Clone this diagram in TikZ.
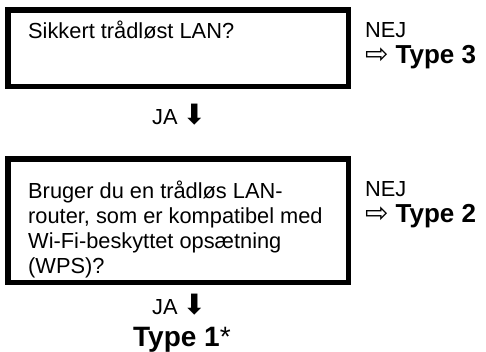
\documentclass[tikz,border=0pt]{standalone}
\usepackage{fontspec}
\setmainfont{Liberation Sans}
\newfontfamily\symfont{DejaVu Sans}
\newcommand\wra{{\symfont\mdseries\fontsize{28}{28}\selectfont ⇨}}
\newcommand\dna{{\symfont\fontsize{28}{28}\selectfont ⬇}}
\begin{document}
\begin{tikzpicture}[x=1pt,y=-1pt,
  qbox/.style={draw,line width=5.5pt,minimum width=340.5pt,inner sep=0pt},
  txt/.style={anchor=base west,inner sep=0pt,font=\fontsize{21.8}{25}\selectfont},
  bold/.style={anchor=base west,inner sep=0pt,font=\fontsize{26}{26}\selectfont\bfseries}]
\useasboundingbox (0,0) rectangle (486,351);
% boxes
\node[qbox,minimum height=76.5pt] (q1) at (178,48) {};
\node[qbox,minimum height=123.5pt] (q2) at (178,220.5) {};
% box texts
\node[txt] (q1t) at (28,38) {Sikkert trådløst LAN?};
\node[txt,align=left,anchor=north west] (q2t) at (28,181) {Bruger du en trådløs LAN-\\router, som er kompatibel med\\Wi-Fi-beskyttet opsætning\\(WPS)?};
% NEJ branches
\node[txt] (nej1) at (365,37) {NEJ};
\node[bold] (t3) at (365,63) {\wra\hspace{7pt}Type 3};
\node[txt] (nej2) at (365,196) {NEJ};
\node[bold] (t2) at (365,222) {\wra\hspace{7pt}Type 2};
% JA branches
\node[txt] (ja1) at (152,124) {JA\hspace{5pt}\dna};
\node[txt] (ja2) at (152,314) {JA\hspace{5pt}\dna};
\node[txt,font=\fontsize{28}{28}\selectfont\bfseries] (t1) at (133,346) {Type 1{\mdseries*}};
\end{tikzpicture}
\end{document}
